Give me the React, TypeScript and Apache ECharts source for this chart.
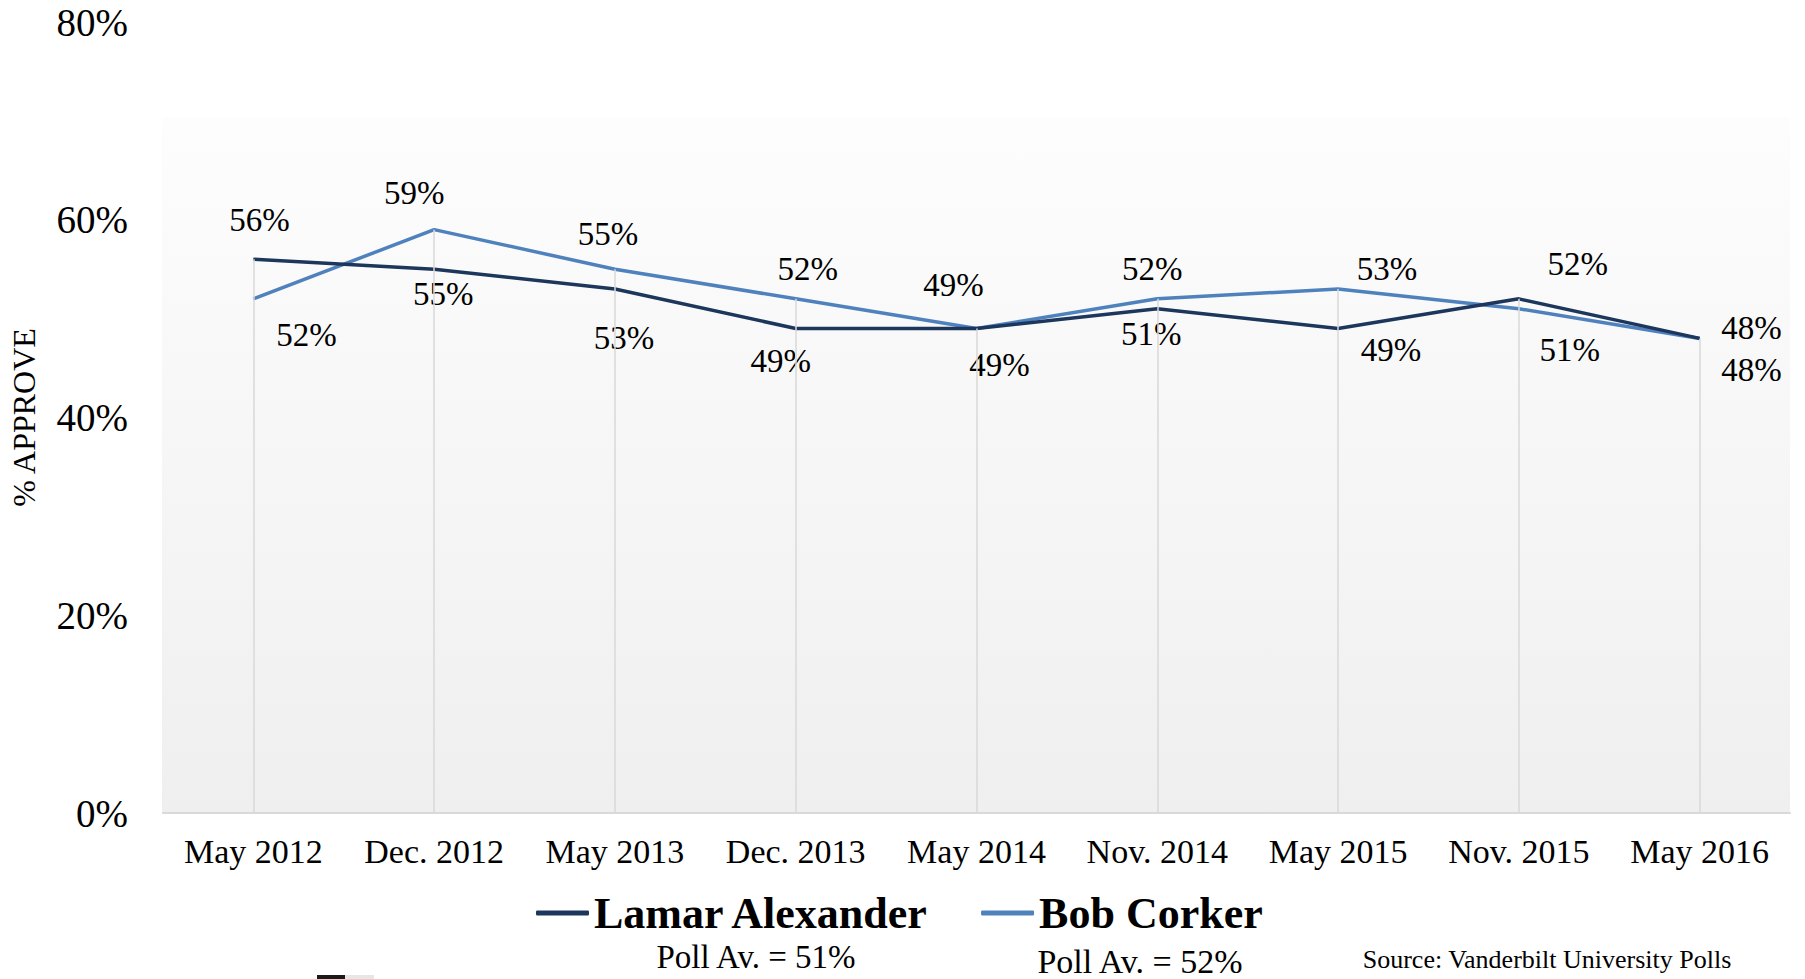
import React, { useEffect, useRef } from "react";
import * as echarts from "echarts";

const categories = [
  "May 2012",
  "Dec. 2012",
  "May 2013",
  "Dec. 2013",
  "May 2014",
  "Nov. 2014",
  "May 2015",
  "Nov. 2015",
  "May 2016",
];
const lamarValues = [56, 55, 53, 49, 49, 51, 49, 52, 48];
const corkerValues = [52, 59, 55, 52, 49, 52, 53, 51, 48];
const seriesNames = ["Lamar Alexander", "Bob Corker"];
const yTickMin = 0;
const yTickMax = 80;
const yTickStep = 20;
const pollAverages = ["Poll Av. = 51%", "Poll Av. = 52%"];
const sourceNote = "Source: Vanderbilt University Polls";
const axisTitle = "% APPROVE";

// label placement (pixel offsets from each point)
const lamarLabelOffsets = [
  [6, -39],
  [9, 25],
  [9, 49],
  [-15, 32],
  [23, 36],
  [-6, 25],
  [53, 21],
  [59, -35],
  [52, -10],
];
const corkerLabelOffsets = [
  [53, 36],
  [-20, -37],
  [-7, -35],
  [12, -30],
  [-23, -44],
  [-5, -30],
  [49, -20],
  [51, 41],
  [52, 32],
];

const FONT = "'Liberation Serif', 'DejaVu Serif', serif";
const LAMAR_COLOR = "#1c365c";
const CORKER_COLOR = "#4f81bd";

export default function App() {
  const ref = useRef<HTMLDivElement | null>(null);

  useEffect(() => {
    if (!ref.current) return;
    const chart = echarts.init(ref.current, null, { renderer: "svg" });

    const labelBase = {
      show: true,
      position: "inside",
      formatter: "{c}%",
      color: "#000",
      fontFamily: FONT,
      fontSize: 33,
    };

    const dropLines = categories.map((c, i) => [
      { coord: [c, Math.max(lamarValues[i], corkerValues[i])] },
      { coord: [c, 0] },
    ]);

    chart.setOption({
      animation: false,
      backgroundColor: "#ffffff",
      grid: { left: 162, right: 15, top: 22, bottom: 166, containLabel: false },
      legend: {
        data: seriesNames,
        left: 536,
        top: 891,
        padding: 0,
        icon: "roundRect",
        itemWidth: 53,
        itemHeight: 5,
        itemGap: 51,
        textStyle: {
          fontFamily: FONT,
          fontWeight: "bold",
          fontSize: 44,
          color: "#000",
        },
      },
      xAxis: {
        type: "category",
        data: categories,
        boundaryGap: true,
        axisTick: { show: false },
        axisLine: { show: true, lineStyle: { color: "#d9d9d9", width: 2 } },
        axisLabel: {
          interval: 0,
          hideOverlap: false,
          color: "#000",
          fontFamily: FONT,
          fontSize: 34,
          margin: 21,
        },
        splitLine: { show: false },
      },
      yAxis: {
        type: "value",
        min: yTickMin,
        max: yTickMax,
        interval: yTickStep,
        axisLine: { show: false },
        axisTick: { show: false },
        splitLine: { show: false },
        axisLabel: {
          color: "#000",
          fontFamily: FONT,
          fontSize: 39,
          margin: 35,
          formatter: "{value}%",
        },
        name: axisTitle,
        nameLocation: "middle",
        nameGap: 123,
        nameTextStyle: { color: "#000", fontFamily: FONT, fontSize: 32 },
      },
      graphic: [
        {
          type: "rect",
          z: -10,
          silent: true,
          shape: { x: 162, y: 117, width: 1628, height: 696 },
          style: {
            fill: new echarts.graphic.LinearGradient(0, 0, 0, 1, [
              { offset: 0, color: "#fdfdfd" },
              { offset: 1, color: "#efefef" },
            ]),
          },
        },
        {
          type: "text",
          x: 756,
          y: 957,
          style: {
            text: pollAverages[0],
            fontFamily: FONT,
            fontSize: 33,
            fill: "#000",
            textAlign: "center",
            textVerticalAlign: "middle",
          },
        },
        {
          type: "text",
          x: 1140,
          y: 961,
          style: {
            text: pollAverages[1],
            fontFamily: FONT,
            fontSize: 34,
            fill: "#000",
            textAlign: "center",
            textVerticalAlign: "middle",
          },
        },
        {
          type: "text",
          x: 1547,
          y: 959,
          style: {
            text: sourceNote,
            fontFamily: FONT,
            fontSize: 26,
            fill: "#000",
            textAlign: "center",
            textVerticalAlign: "middle",
          },
        },
        {
          type: "rect",
          shape: { x: 317, y: 975, width: 28, height: 4 },
          style: { fill: "#1a1a1a" },
        },
        {
          type: "rect",
          shape: { x: 345, y: 975, width: 29, height: 4 },
          style: { fill: "#e6e6e6" },
        },
      ],
      series: [
        {
          name: "drop",
          type: "line",
          data: [],
          silent: true,
          z: 1,
          markLine: {
            silent: true,
            symbol: ["none", "none"],
            label: { show: false },
            lineStyle: { color: "#d9d9d9", width: 1.5, type: "solid" },
            data: dropLines,
          },
        },
        {
          name: seriesNames[0],
          type: "line",
          z: 3,
          data: lamarValues.map((v, i) => ({
            value: v,
            label: { offset: lamarLabelOffsets[i] },
          })),
          symbol: "circle",
          symbolSize: 1,
          showSymbol: true,
          color: LAMAR_COLOR,
          lineStyle: { color: LAMAR_COLOR, width: 3.5 },
          itemStyle: { color: LAMAR_COLOR },
          label: labelBase,
        },
        {
          name: seriesNames[1],
          type: "line",
          z: 2,
          data: corkerValues.map((v, i) => ({
            value: v,
            label: { offset: corkerLabelOffsets[i] },
          })),
          symbol: "circle",
          symbolSize: 1,
          showSymbol: true,
          color: CORKER_COLOR,
          lineStyle: { color: CORKER_COLOR, width: 3.5 },
          itemStyle: { color: CORKER_COLOR },
          label: labelBase,
        },
      ],
    });

    return () => {
      chart.dispose();
    };
  }, []);

  return (
    <div
      ref={ref}
      style={{ position: "fixed", left: 0, top: 0, width: 1805, height: 979 }}
    />
  );
}
